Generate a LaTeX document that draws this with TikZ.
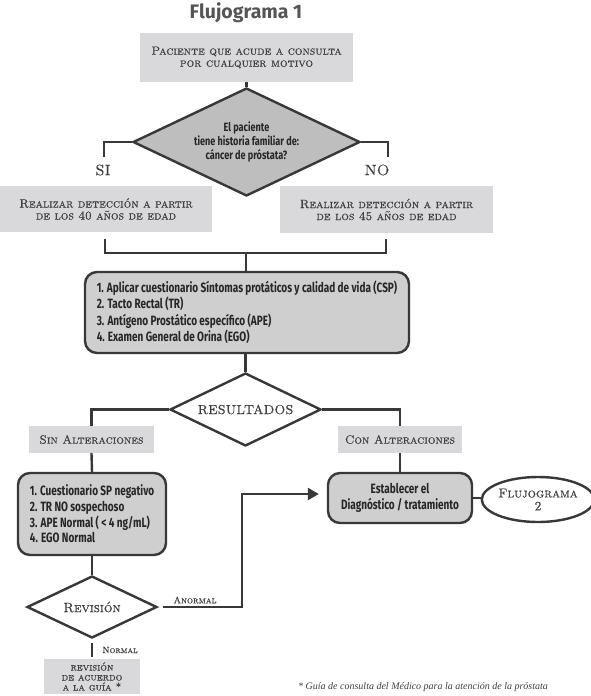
\documentclass[tikz,border=0pt]{standalone}
\usepackage{fontspec}
\newfontfamily\condfont[FakeStretch=0.74]{Fira Sans}
\newfontfamily\dcondfont[FakeStretch=0.76]{Fira Sans}
\newfontfamily\titlefont{Fira Sans}
\newfontfamily\footfont{Liberation Serif}
\newfontfamily\scf[FakeBold=0.5]{lmromancaps10-regular.otf}
\usetikzlibrary{shapes.geometric,arrows.meta}
\definecolor{boxgray}{HTML}{D9D9DB}
\definecolor{rgray}{HTML}{CFCFCF}
\definecolor{dgray}{HTML}{BEBEBE}
\definecolor{linec}{HTML}{383838}
\definecolor{txt}{HTML}{404040}
\definecolor{titlec}{HTML}{555555}
\tikzset{
  conn/.style={draw=linec, line width=2.4pt},
  flatbox/.style={rectangle, fill=boxgray, inner sep=0pt, text=txt, align=center,
    font=\scf\fontsize{12}{12}\selectfont},
  roundbox/.style={rectangle, rounded corners=12pt, draw=linec, line width=2.4pt,
    fill=rgray, inner sep=0pt, text=black!85,
    font=\condfont\bfseries\fontsize{13.5}{16.5}\selectfont},
  decision/.style={diamond, draw=linec, line width=2.4pt, inner sep=0pt, align=center, text=txt},
  lab/.style={inner sep=0pt, text=txt, font=\scf\fontsize{9.5}{9.5}\selectfont}
}
\begin{document}
\begin{tikzpicture}[x=1pt,y=-1pt]
\useasboundingbox (0,0) rectangle (590,696);

\node[inner sep=0pt, text=titlec, font=\titlefont\bfseries\fontsize{19.5}{19.5}\selectfont] (title) at (246,13) {Flujograma 1};

\node[flatbox, minimum width=213pt, minimum height=49pt] (top) at (246.5,57.5)
  {Paciente que acude a consulta\\por cualquier motivo};

\node[decision, fill=dgray, minimum width=227pt, minimum height=108pt, aspect=2.1,
  font=\dcondfont\bfseries\fontsize{12}{14}\selectfont, text=black!85] (d1) at (246.5,142)
  {El paciente\\tiene historia familiar de:\\cáncer de próstata?};
\draw[conn] (top) -- (d1);

\coordinate (si) at (104,157);
\coordinate (no) at (388,157);
\draw[conn] (d1.west) -| (si);
\draw[conn] (d1.east) -| (no);
\node[inner sep=0pt, text=txt, font=\scf\fontsize{15}{15}\selectfont] (silab) at (103,170) {SI};
\node[inner sep=0pt, text=txt, font=\scf\fontsize{15}{15}\selectfont] (nolab) at (377,170) {NO};

\node[flatbox, minimum width=212pt, minimum height=46pt] (l40) at (106,209)
  {Realizar detección a partir\\de los 40 años de edad};
\node[flatbox, minimum width=213pt, minimum height=47pt] (r45) at (386.5,209.5)
  {Realizar detección a partir\\de los 45 años de edad};

\coordinate (b1) at (105,239);
\coordinate (b2) at (386,239);
\coordinate (bj) at (246,253);
\draw[conn] (b1) |- (bj) -| (b2);

\node[roundbox, minimum width=324pt, minimum height=81pt, align=left] (exam) at (247,312.5)
  {1. Aplicar cuestionario Síntomas protáticos y calidad de vida (CSP)\\
   2. Tacto Rectal (TR)\\
   3. Antígeno Prostático específico (APE)\\
   4. Examen General de Orina (EGO)};
\draw[conn] (bj) -- (bj |- exam.north);

\node[decision, fill=white, minimum width=151pt, minimum height=73pt, aspect=2.07,
  font=\scf\fontsize{13}{13}\selectfont] (d2) at (245.5,409.5) {RESULTADOS};
\draw[conn] (exam.south -| d2.north) -- (d2.north);

\node[flatbox, minimum width=125pt, minimum height=27pt] (sin) at (91.5,439.5) {Sin Alteraciones};
\node[flatbox, minimum width=124pt, minimum height=27pt] (con) at (400,439.5) {Con Alteraciones};
\draw[conn] (d2.west) -| (sin.north);
\draw[conn] (d2.east) -| (con.north);

\node[roundbox, minimum width=148pt, minimum height=82pt, align=left,
  font=\condfont\bfseries\fontsize{13.5}{15.7}\selectfont] (res) at (92,514)
  {1. Cuestionario SP negativo\\
   2. TR NO sospechoso\\
   3. APE Normal ( < 4 ng/mL)\\
   4. EGO Normal};
\draw[conn] (sin.south) -- (res.north);

\node[roundbox, minimum width=144pt, minimum height=50pt, align=center] (diag) at (400,498)
  {Establecer el\\Diagnóstico / tratamiento};
\draw[conn] (con.south) -- (diag.north);

\node[ellipse, draw=linec, line width=2.4pt, fill=white, inner sep=0pt, minimum width=96pt,
  minimum height=45pt, align=center, text=txt, font=\scf\fontsize{13}{13}\selectfont] (fl2) at (538,499.5)
  {Flujograma\\2};
\draw[conn] (diag.east) -- (diag.east -| fl2.west);

\node[decision, fill=white, minimum width=130pt, minimum height=62pt, aspect=2.1,
  font=\scf\fontsize{13.4}{13.4}\selectfont] (d3) at (92,607) {Revisión};
\draw[conn] (res.south) -- (d3.north);

\coordinate (ab) at (242,494);
\draw[conn, shorten <=5pt, shorten >=8pt, -{Triangle[length=11pt,width=12pt]}]
  (d3.east) -| (ab) -- (ab -| diag.west);
\node[lab] (anorm) at (195,600) {Anormal};

\node[flatbox, minimum width=96pt, minimum height=35pt, font=\scf\fontsize{10.5}{10}\selectfont] (guia) at (92,676.5)
  {revisión\\de acuerdo\\a la guía *};
\draw[conn, shorten <=4pt, shorten >=2pt] (d3.south) -- (d3.south |- guia.north);
\node[lab, font=\scf\fontsize{9}{9}\selectfont] (norm) at (120,650) {Normal};

\node[anchor=west, inner sep=0pt, text=txt, font=\footfont\itshape\fontsize{10}{10}\selectfont] (fn) at (298,687)
  {* Guía de consulta del Médico para la atención de la próstata};
\end{tikzpicture}
\end{document}
